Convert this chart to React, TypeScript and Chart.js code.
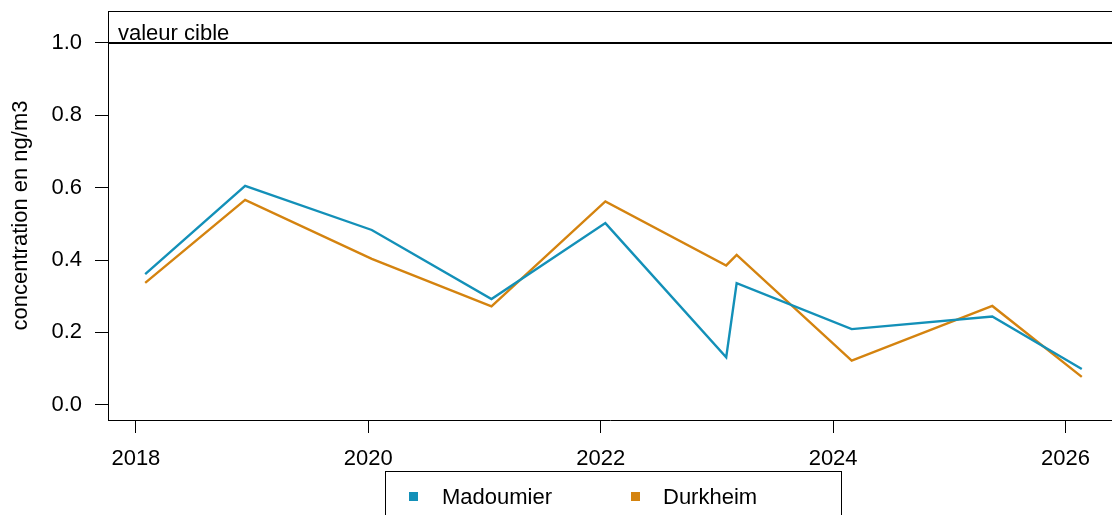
import React, { useEffect, useRef } from "react";
import { Chart, registerables } from "chart.js";

Chart.register(...registerables);

const years = [2018.08, 2018.94, 2020.03, 2021.06, 2022.04, 2023.08, 2023.17, 2024.16, 2025.37, 2026.14];
const madoumier = [0.361, 0.605, 0.483, 0.292, 0.502, 0.131, 0.336, 0.209, 0.244, 0.099];
const durkheim = [0.337, 0.566, 0.403, 0.272, 0.562, 0.385, 0.414, 0.122, 0.273, 0.077];
const xTicks = [2018, 2020, 2022, 2024, 2026];
const yTicks = [0, 0.2, 0.4, 0.6, 0.8, 1.0];
const targetValue = 1.0;
const targetLabel = "valeur cible";
const seriesNames = ["Madoumier", "Durkheim"];
const seriesColors = ["#1390b8", "#d4830f"];
const yTitle = "concentration en ng/m3";

const FONT = "'Liberation Sans', Arial, sans-serif";
const W = 1112;
const H = 515;

export default function App() {
  const ref = useRef<HTMLCanvasElement>(null);

  useEffect(() => {
    if (!ref.current) return;
    const boxPlugin = {
      id: "boxAndTarget",
      afterDatasetsDraw(chart: any) {
        const { ctx, chartArea } = chart;
        const y = Math.round(chart.scales.y.getPixelForValue(targetValue));
        ctx.save();
        ctx.strokeStyle = "#000";
        ctx.lineWidth = 2;
        ctx.beginPath();
        ctx.moveTo(chartArea.left, y);
        ctx.lineTo(chartArea.right, y);
        ctx.stroke();
        ctx.lineWidth = 1;
        ctx.beginPath();
        ctx.moveTo(chartArea.left, Math.round(chartArea.top) + 0.5);
        ctx.lineTo(chartArea.right, Math.round(chartArea.top) + 0.5);
        ctx.stroke();
        ctx.font = `22px ${FONT}`;
        ctx.fillStyle = "#000";
        ctx.textBaseline = "alphabetic";
        ctx.textAlign = "left";
        ctx.fillText(targetLabel, chartArea.left + 10, y - 3);
        ctx.restore();
      },
    };

    const chart = new Chart(ref.current, {
      type: "line",
      data: {
        datasets: [madoumier, durkheim].map((vals, k) => ({
          label: seriesNames[k],
          data: years.map((x, i) => ({ x, y: vals[i] })),
          borderColor: seriesColors[k],
          backgroundColor: seriesColors[k],
          borderWidth: 2.4,
          pointRadius: 0,
          tension: 0,
          fill: false,
        })),
      },
      options: {
        responsive: false,
        animation: false,
        devicePixelRatio: 1,
        layout: { padding: { top: 11, left: 0, right: 0, bottom: 0 } },
        plugins: { legend: { display: false }, tooltip: { enabled: false } },
        scales: {
          x: {
            type: "linear",
            min: 2017.76,
            max: 2026.4,
            afterBuildTicks: (s: any) => {
              s.ticks = xTicks.map((v) => ({ value: v }));
            },
            afterFit: (s: any) => {
              s.height = H - 420;
              s.paddingLeft = 0;
              s.paddingRight = 0;
            },
            grid: { drawOnChartArea: false, drawTicks: true, tickLength: 13, color: "#000", lineWidth: 1 },
            border: { display: true, color: "#000", width: 1 },
            ticks: {
              font: { family: FONT, size: 22 },
              color: "#000",
              padding: 13,
              maxRotation: 0,
              autoSkip: false,
              callback: (v: any) => String(v),
            },
          },
          y: {
            type: "linear",
            min: -0.042,
            max: 1.088,
            afterBuildTicks: (s: any) => {
              s.ticks = yTicks.map((v) => ({ value: v }));
            },
            afterFit: (s: any) => {
              s.width = 108;
              s.paddingTop = 0;
              s.paddingBottom = 0;
            },
            grid: { drawOnChartArea: false, drawTicks: true, tickLength: 13, color: "#000", lineWidth: 1 },
            border: { display: true, color: "#000", width: 1 },
            ticks: {
              font: { family: FONT, size: 22 },
              color: "#000",
              padding: 13,
              autoSkip: false,
              callback: (v: any) => Number(v).toFixed(1),
            },
            title: {
              display: true,
              text: yTitle,
              font: { family: FONT, size: 22 },
              color: "#000",
              padding: { top: 8, bottom: 0 },
            },
          },
        },
      },
      plugins: [boxPlugin],
    });
    return () => chart.destroy();
  }, []);

  return (
    <div style={{ position: "fixed", left: 0, top: 0, width: W, height: H, overflow: "hidden", background: "#fff" }}>
      <canvas ref={ref} width={W} height={H} style={{ display: "block" }} />
      <div
        style={{
          position: "absolute",
          left: 385,
          top: 471,
          width: 457,
          height: 80,
          border: "1px solid #000",
          boxSizing: "border-box",
          fontFamily: FONT,
          fontSize: 22,
          color: "#000",
        }}
      >
        {seriesNames.map((name, k) => (
          <React.Fragment key={name}>
            <div
              style={{
                position: "absolute",
                left: (k === 0 ? 408 : 630) - 385,
                top: 491 - 471,
                width: 9,
                height: 9,
                background: seriesColors[k],
              }}
            />
            <div
              style={{
                position: "absolute",
                left: (k === 0 ? 441 : 662) - 385,
                top: 483 - 471,
                lineHeight: "26px",
                whiteSpace: "nowrap",
              }}
            >
              {name}
            </div>
          </React.Fragment>
        ))}
      </div>
    </div>
  );
}
